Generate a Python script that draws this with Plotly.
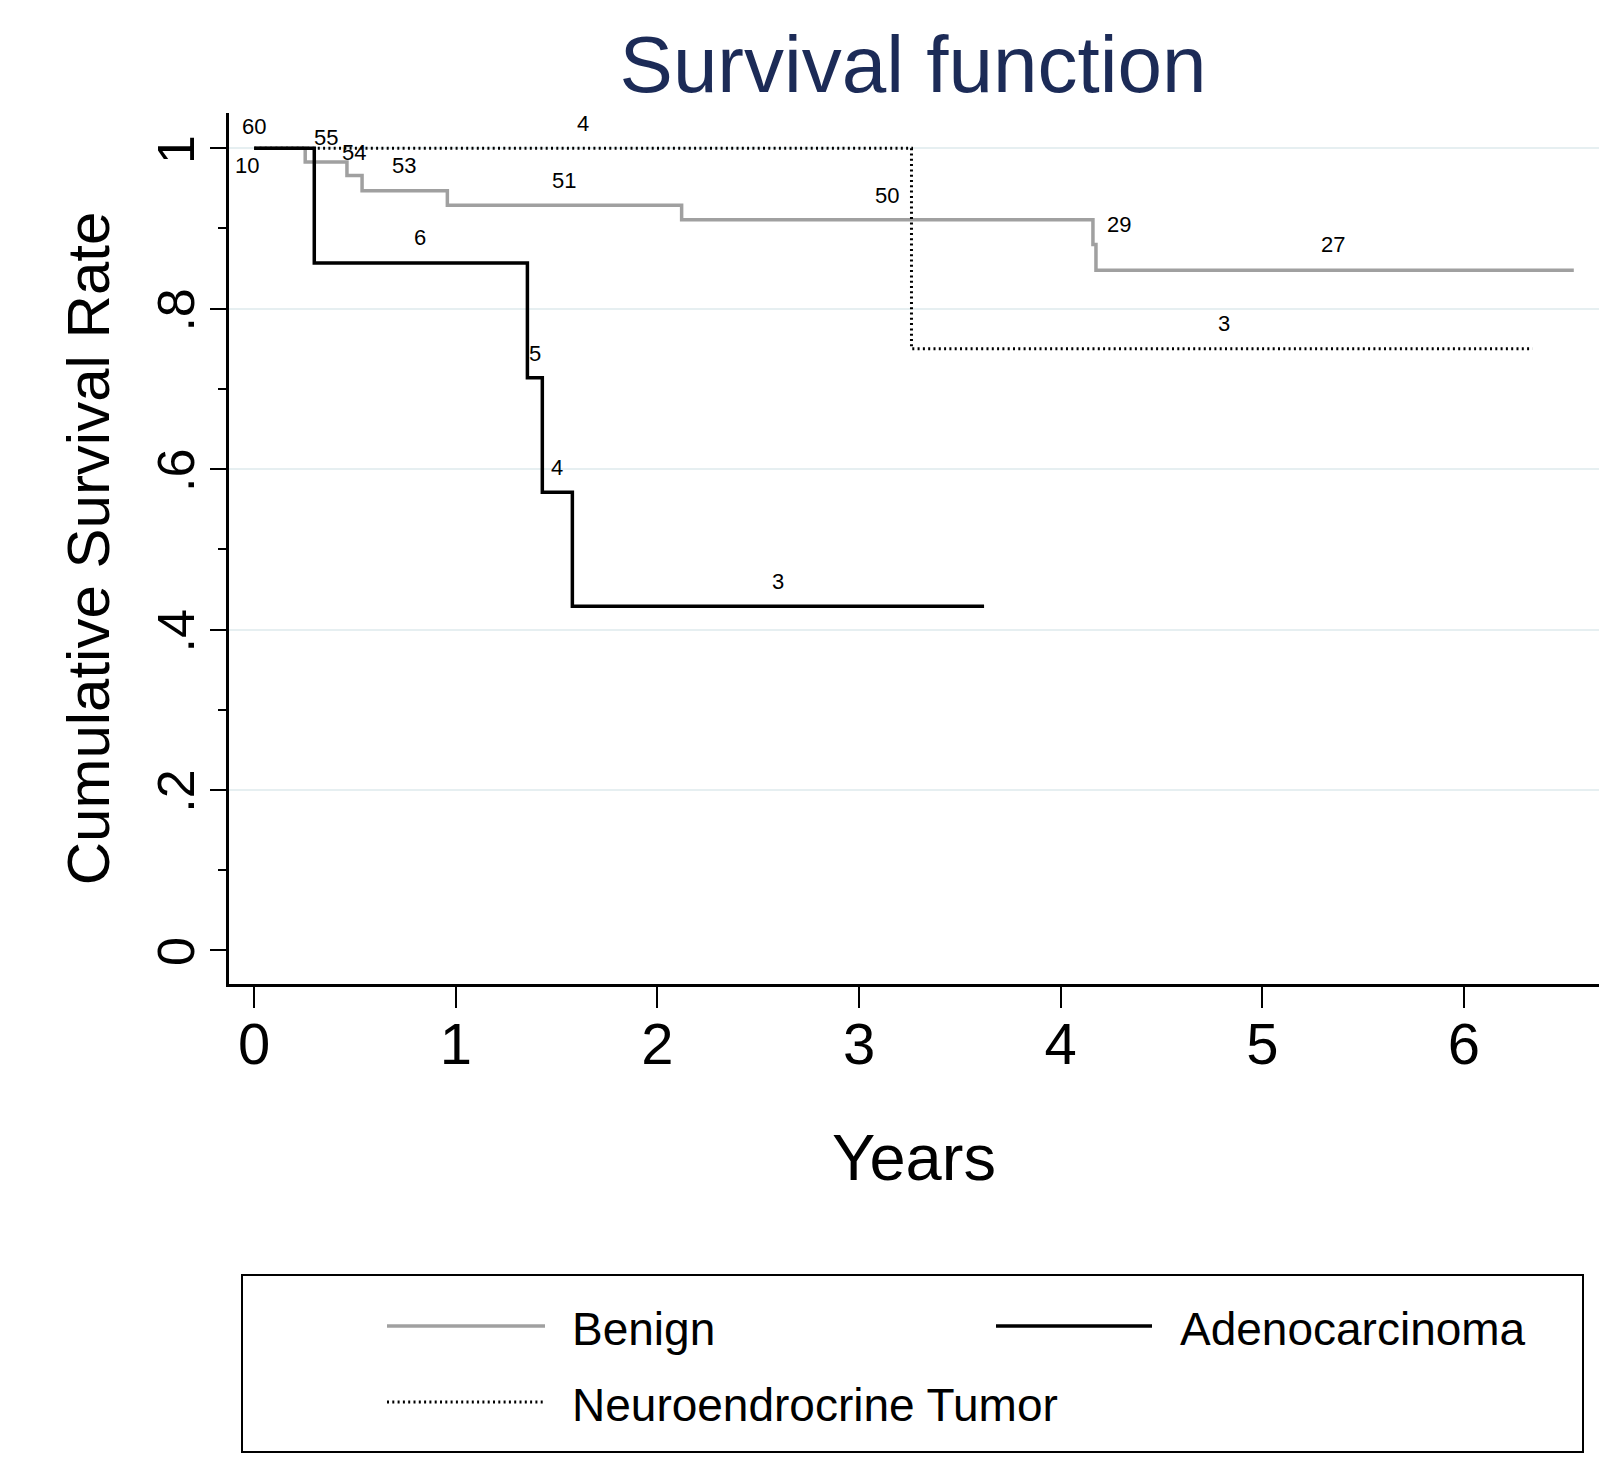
import plotly.graph_objects as go

# ---------------- data ----------------
benign_t = [0, 0.253, 0.46, 0.535, 0.958, 2.12, 4.16, 4.175, 6.545]
benign_s = [1, 0.983, 0.966, 0.947, 0.929, 0.911, 0.880, 0.848, 0.848]

adeno_t = [0, 0.298, 1.355, 1.429, 1.578, 3.62]
adeno_s = [1, 0.857, 0.714, 0.571, 0.429, 0.429]

neuro_t = [0, 3.26, 6.34]
neuro_s = [1, 0.75, 0.75]

# numbers at risk labels: text, time, survival position
risk_text = ["60", "10", "55", "54", "53", "51", "4", "6", "50", "29", "27", "3", "5", "4", "3"]
risk_t = [0.0, -0.035, 0.357, 0.496, 0.744, 1.535, 1.63, 0.824, 3.14, 4.29, 5.35, 4.81, 1.395, 1.50, 2.60]
risk_s = [1.027, 0.979, 1.014, 0.995, 0.978, 0.960, 1.031, 0.889, 0.941, 0.905, 0.880, 0.782, 0.744, 0.602, 0.46]

x_ticks = [0, 1, 2, 3, 4, 5, 6]
y_ticks = [0, 0.2, 0.4, 0.6, 0.8, 1]
y_ticktext = ["0", ".2", ".4", ".6", ".8", "1"]
y_minor = [0.1, 0.3, 0.5, 0.7, 0.9]
grid_vals = [0.2, 0.4, 0.6, 0.8, 1]

series_names = ["Benign", "Adenocarcinoma", "Neuroendrocrine Tumor"]
series_colors = ["#a0a0a0", "#000000", "#000000"]
series_dash = ["solid", "solid", "2px,3.3px"]
series_width = [3.5, 3.5, 3]

FONT = "Liberation Sans, Arial, Helvetica, sans-serif"

# ---------------- geometry (figure pixel coords; page has 8px body offset) ----------------
OFF = 8
W, H = 1612, 1482
L, R, T, B = 229 - OFF, 1599 - OFF, 113 - OFF, 984 - OFF


def px_x(p):
    return (p - OFF - L) / (R - L)


def px_y(p):
    return (B - (p - OFF)) / (B - T)


fig = go.Figure()

data_series = [(benign_t, benign_s), (neuro_t, neuro_s), (adeno_t, adeno_s)]
order = [0, 2, 1]
for (t, s), idx in zip(data_series, order):
    fig.add_trace(go.Scatter(
        x=t, y=s, mode="lines", line_shape="hv",
        name=series_names[idx],
        line=dict(color=series_colors[idx], width=series_width[idx], dash=series_dash[idx]),
        showlegend=False, hoverinfo="skip",
    ))

# invisible trace to activate the grid axis
fig.add_trace(go.Scatter(x=[None], y=[None], yaxis="y2", showlegend=False))

annotations = []
for txt, t, s in zip(risk_text, risk_t, risk_s):
    annotations.append(dict(x=t, y=s, xref="x", yref="y", text=txt, showarrow=False,
                            font=dict(family=FONT, size=22, color="black"),
                            xanchor="center", yanchor="middle"))

# ---------------- manual legend ----------------
shapes = [dict(type="rect", xref="paper", yref="paper",
               x0=px_x(242), x1=px_x(1583), y0=px_y(1452), y1=px_y(1275),
               line=dict(color="black", width=2), fillcolor="white", layer="above")]
legend_slots = [(387, 545, 1326, 570), (996, 1152, 1326, 1178), (387, 545, 1402, 570)]
for idx, (lx0, lx1, ly, tx) in enumerate(legend_slots):
    shapes.append(dict(type="line", xref="paper", yref="paper",
                       x0=px_x(lx0), x1=px_x(lx1), y0=px_y(ly), y1=px_y(ly),
                       line=dict(color=series_colors[idx], width=series_width[idx],
                                 dash=series_dash[idx])))
    annotations.append(dict(x=px_x(tx), y=px_y(ly + 3), xref="paper", yref="paper",
                            text=series_names[idx], showarrow=False,
                            font=dict(family=FONT, size=46, color="black"),
                            xanchor="left", yanchor="middle"))

fig.update_layout(
    width=W, height=H,
    margin=dict(l=L, r=W - R, t=T, b=H - B, pad=0),
    paper_bgcolor="white", plot_bgcolor="white",
    font=dict(family=FONT, color="black"),
    title=dict(text="Survival function", x=(913 - OFF) / W, xanchor="center",
               y=1 - (64 - OFF) / H, yanchor="middle", yref="container",
               font=dict(family=FONT, size=80, color="#1c2b57")),
    xaxis=dict(range=[-0.125, 6.67], tickvals=x_ticks, ticks="outside", ticklen=21,
               tickwidth=2, tickcolor="black", showline=True, linecolor="black",
               linewidth=2.5, showgrid=False, zeroline=False,
               tickfont=dict(family=FONT, size=58, color="black"),
               ticklabelstandoff=-13,
               title=dict(text="Years", font=dict(family=FONT, size=65, color="black"),
                          standoff=60),
               automargin=False),
    yaxis=dict(range=[-0.042, 1.044], tickvals=y_ticks, ticktext=y_ticktext,
               tickangle=-90, ticks="outside", ticklen=16, tickwidth=2,
               tickcolor="black", showline=True, linecolor="black", linewidth=2.5,
               showgrid=False, zeroline=False,
               minor=dict(tickvals=y_minor, ticks="outside", ticklen=8, tickwidth=2,
                          tickcolor="black", showgrid=False),
               tickfont=dict(family=FONT, size=52, color="black"),
               ticklabelstandoff=-5, ticklabelshift=9,
               title=dict(text="Cumulative Survival Rate",
                          font=dict(family=FONT, size=60, color="black"), standoff=19),
               automargin=False),
    yaxis2=dict(range=[-0.042, 1.044], overlaying="y", tickvals=grid_vals,
                showticklabels=False, ticks="", showgrid=True, gridcolor="#e6eff1",
                gridwidth=2, zeroline=False, showline=False, layer="below traces"),
    shapes=shapes,
    annotations=annotations,
)

fig.write_html("out.html")
